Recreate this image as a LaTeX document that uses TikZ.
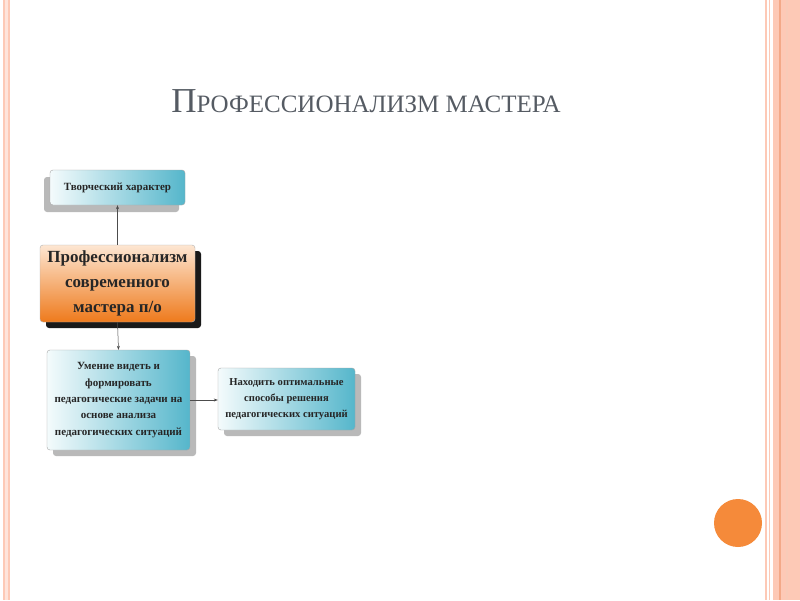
\documentclass[tikz,border=0pt]{standalone}
\usepackage{fontspec}
\setmainfont{Liberation Serif}
\usetikzlibrary{arrows.meta}
\definecolor{teal1}{HTML}{55B6CB}
\definecolor{tealL}{HTML}{F4FBFC}
\definecolor{orL}{HTML}{FDE6D2}
\definecolor{orD}{HTML}{EE7A1C}
\definecolor{stripe}{HTML}{FDC9B6}
\definecolor{stripeD}{HTML}{F3A988}
\definecolor{dot}{HTML}{F58A3A}
\definecolor{titlegray}{HTML}{555B63}
\tikzset{
  bluebox/.style={draw=gray!70, rounded corners=3pt, left color=tealL, right color=teal1,
    align=center, inner sep=2pt},
  orbox/.style={draw=gray!60, rounded corners=3pt, top color=orL, bottom color=orD,
    align=center, font=\bfseries\fontsize{17}{25}\selectfont\color{black!85}, inner sep=2pt},
  shad/.style={fill=gray!55, rounded corners=3pt},
  conn/.style={draw=black!70, -{Stealth[length=4pt,width=3pt]}, line width=0.5pt}
}
\begin{document}
\begin{tikzpicture}[x=1pt,y=-1pt]
\useasboundingbox (0,0) rectangle (800,600);
\fill[white] (0,0) rectangle (800,600);
% stripes
\fill[stripe] (3,0) rectangle (10,600);
\fill[stripe!50] (5,0) rectangle (8,600);
\fill[stripe] (765,0) rectangle (767,600);
\fill[stripe] (768.5,0) rectangle (770,600);
\fill[stripe] (773,0) rectangle (800,600);
\fill[stripeD] (779,0) rectangle (781,600);
\fill[stripeD!60] (786,0) rectangle (788,600);
% dot
\fill[dot] (738,523) circle (24);
% title
\node[font=\color{titlegray}] (title) at (366,101)
  {{\fontsize{35}{38}\selectfont П}{\fontsize{25}{28}\selectfont РОФЕССИОНАЛИЗМ МАСТЕРА}};
% shadows
\fill[shad] (44,177) rectangle (179,212);
\fill[black!90, rounded corners=3pt] (46,251) rectangle (201,328);
\fill[shad] (53,356) rectangle (196,456);
\fill[shad] (224,374) rectangle (361,436);
% boxes
\node[bluebox, minimum width=135pt, minimum height=35pt, font=\bfseries\fontsize{11}{13}\selectfont\color{black!85}] (top) at (117.5,187.5) {Творческий характер};
\node[orbox, minimum width=155pt, minimum height=77pt] (mid) at (117.5,283.5) {Профессионализм\\современного\\мастера п/о};
\node[bluebox, minimum width=143pt, minimum height=100pt, font=\bfseries\fontsize{11}{16.3}\selectfont\color{black!85}] (bl) at (118.5,400) {Умение видеть и\\формировать\\педагогические задачи на\\основе анализа\\педагогических ситуаций};
\node[bluebox, minimum width=137pt, minimum height=62pt, font=\bfseries\fontsize{10.6}{16}\selectfont\color{black!85}] (br) at (286.5,399) {Находить оптимальные\\способы решения\\педагогических ситуаций};
% connectors
\draw[conn] (mid.north) -- (top.south);
\draw[conn] (mid.south) -- (bl.north);
\draw[conn] (bl.east) -- (bl.east -| br.west);
\end{tikzpicture}
\end{document}
